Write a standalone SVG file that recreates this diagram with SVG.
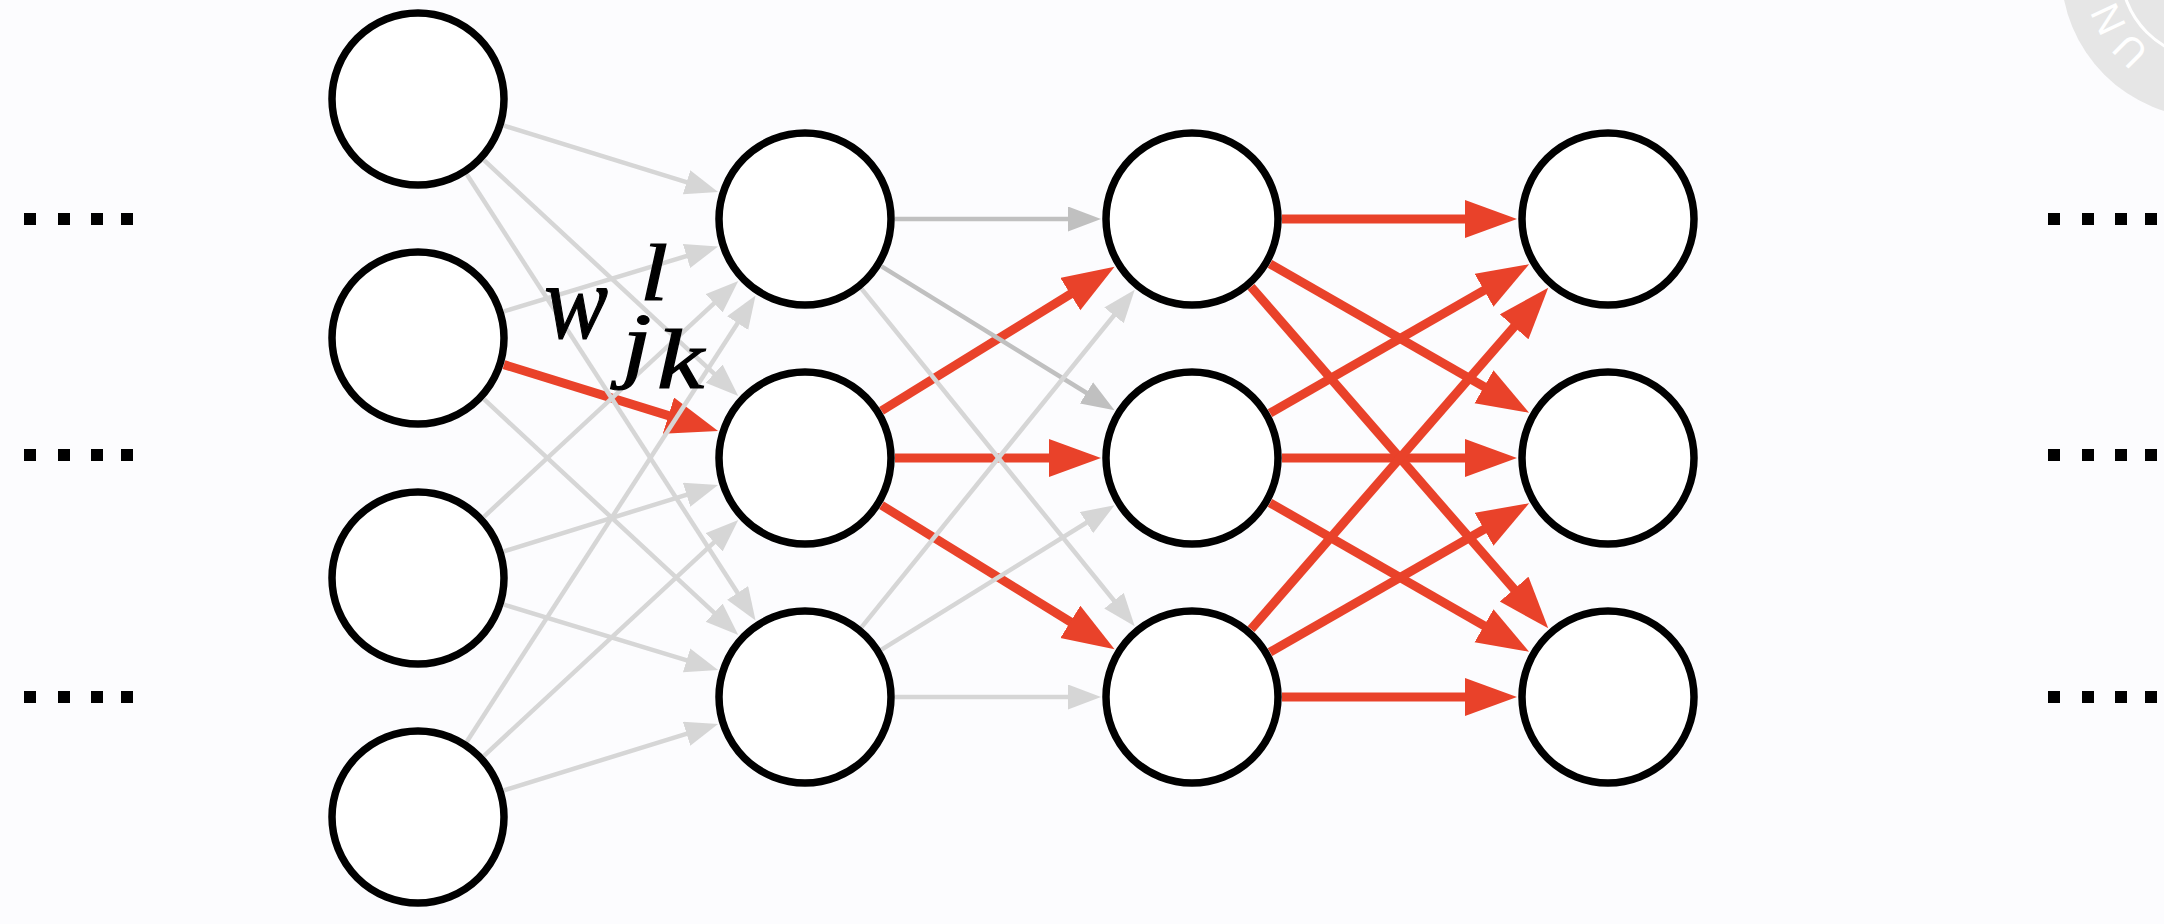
<svg xmlns="http://www.w3.org/2000/svg" width="2164" height="924" viewBox="0 0 2164 924">
<defs>
<style>
.node{fill:#ffffff;stroke:#000000;stroke-width:7.5}
.g{stroke:#d6d6d6;stroke-width:4.5;fill:none;marker-end:url(#ag)}
.d{stroke:#c0c0c0;stroke-width:4.5;fill:none;marker-end:url(#ad)}
.r{stroke:#e9422a;stroke-width:9;fill:none;marker-end:url(#ar)}
.dot{fill:#000000}
.lbl{font-family:"Liberation Serif","DejaVu Serif",serif;font-style:italic;fill:#000000;stroke:#000000;stroke-width:1.2}
</style>
<marker id="ag" markerUnits="userSpaceOnUse" markerWidth="34" markerHeight="26" refX="15" refY="12.5" orient="auto" viewBox="0 0 34 26"><path d="M0,0 L33,12.5 L0,25 z" fill="#d6d6d6"/></marker>
<marker id="ad" markerUnits="userSpaceOnUse" markerWidth="34" markerHeight="26" refX="15" refY="12.5" orient="auto" viewBox="0 0 34 26"><path d="M0,0 L33,12.5 L0,25 z" fill="#c0c0c0"/></marker>
<marker id="ar" markerUnits="userSpaceOnUse" markerWidth="53" markerHeight="39" refX="22" refY="19" orient="auto" viewBox="0 0 53 39"><path d="M0,0 L52,19 L0,38 z" fill="#e9422a"/></marker>
</defs>
<rect x="0" y="0" width="2164" height="924" fill="#fcfcfe"/>
<g id="watermark">
<circle cx="2209" cy="-30" r="148" fill="#e6e6e6"/>
<circle cx="2209" cy="-30" r="88" fill="none" stroke="#ffffff" stroke-width="3"/>
<text x="2130" y="51" transform="rotate(-135 2130 51)" text-anchor="middle" dominant-baseline="central" font-family="Liberation Sans, sans-serif" font-size="40" fill="#ffffff">U</text>
<text x="2108" y="19" transform="rotate(-115 2108 19)" text-anchor="middle" dominant-baseline="central" font-family="Liberation Sans, sans-serif" font-size="40" fill="#ffffff">N</text>
</g>
<g id="connectors">
<line class="r" x1="503.96" y1="364.66" x2="689.43" y2="422.16"/>
<line class="r" x1="881.57" y1="410.71" x2="1089.05" y2="282.57"/>
<line class="r" x1="895" y1="458" x2="1071" y2="458"/>
<line class="r" x1="881.57" y1="505.29" x2="1089.05" y2="633.43"/>
<line class="r" x1="1282" y1="219" x2="1487" y2="219"/>
<line class="r" x1="1270.04" y1="263.84" x2="1503.08" y2="397.72"/>
<line class="r" x1="1251.09" y1="286.89" x2="1528.56" y2="605.73"/>
<line class="r" x1="1270.04" y1="413.16" x2="1503.08" y2="279.28"/>
<line class="r" x1="1282" y1="458" x2="1487" y2="458"/>
<line class="r" x1="1270.04" y1="502.84" x2="1503.08" y2="636.72"/>
<line class="r" x1="1251.09" y1="629.11" x2="1528.56" y2="310.27"/>
<line class="r" x1="1270.04" y1="652.16" x2="1503.08" y2="518.28"/>
<line class="r" x1="1282" y1="697" x2="1487" y2="697"/>
<line class="g" x1="503.96" y1="125.66" x2="700.89" y2="186.71"/>
<line class="g" x1="483.98" y1="160.21" x2="725.09" y2="383.87"/>
<line class="g" x1="466.9" y1="174.56" x2="745.78" y2="605.49"/>
<line class="g" x1="503.96" y1="311.34" x2="700.89" y2="251.71"/>
<line class="g" x1="483.98" y1="399.21" x2="725.09" y2="622.87"/>
<line class="g" x1="483.98" y1="516.79" x2="725.09" y2="293.13"/>
<line class="g" x1="503.96" y1="551.34" x2="700.89" y2="490.29"/>
<line class="g" x1="503.96" y1="604.66" x2="700.89" y2="664.71"/>
<line class="g" x1="466.9" y1="741.44" x2="745.78" y2="310.51"/>
<line class="g" x1="483.98" y1="755.79" x2="725.09" y2="532.13"/>
<line class="g" x1="503.96" y1="790.34" x2="700.89" y2="729.29"/>
<line class="d" x1="895" y1="219" x2="1083" y2="219"/>
<line class="d" x1="881.57" y1="266.29" x2="1099.26" y2="400.73"/>
<line class="g" x1="861.63" y1="288.95" x2="1123.42" y2="612.29"/>
<line class="g" x1="861.63" y1="627.05" x2="1123.42" y2="303.71"/>
<line class="g" x1="881.57" y1="649.71" x2="1099.26" y2="514.73"/>
<line class="g" x1="895" y1="697" x2="1083" y2="697"/>
</g>
<g id="layer1">
<circle id="n1" class="node" cx="418" cy="99" r="86"/>
<circle id="n2" class="node" cx="418" cy="338" r="86"/>
<circle id="n3" class="node" cx="418" cy="578" r="86"/>
<circle id="n4" class="node" cx="418" cy="817" r="86"/>
</g>
<g id="layer2">
<circle id="m1" class="node" cx="805" cy="219" r="86"/>
<circle id="m2" class="node" cx="805" cy="458" r="86"/>
<circle id="m3" class="node" cx="805" cy="697" r="86"/>
</g>
<g id="layer3">
<circle id="p1" class="node" cx="1192" cy="219" r="86"/>
<circle id="p2" class="node" cx="1192" cy="458" r="86"/>
<circle id="p3" class="node" cx="1192" cy="697" r="86"/>
</g>
<g id="layer4">
<circle id="q1" class="node" cx="1608" cy="219" r="86"/>
<circle id="q2" class="node" cx="1608" cy="458" r="86"/>
<circle id="q3" class="node" cx="1608" cy="697" r="86"/>
</g>
<g id="label">
<text class="lbl"><tspan x="544" y="338" font-size="107" textLength="64" lengthAdjust="spacingAndGlyphs">w</tspan><tspan x="640" y="300" font-size="80" textLength="28" lengthAdjust="spacingAndGlyphs">l</tspan><tspan x="622" y="372" font-size="85" textLength="29.5" lengthAdjust="spacingAndGlyphs">j</tspan><tspan x="657" y="388" font-size="85" textLength="47" lengthAdjust="spacingAndGlyphs">k</tspan></text>
</g>
<g id="dots-left">
<rect class="dot" x="24" y="213" width="12" height="12"/><rect class="dot" x="58" y="213" width="12" height="12"/><rect class="dot" x="91" y="213" width="12" height="12"/><rect class="dot" x="121" y="213" width="12" height="12"/>
<rect class="dot" x="24" y="449" width="12" height="12"/><rect class="dot" x="58" y="449" width="12" height="12"/><rect class="dot" x="91" y="449" width="12" height="12"/><rect class="dot" x="121" y="449" width="12" height="12"/>
<rect class="dot" x="24" y="691" width="12" height="12"/><rect class="dot" x="58" y="691" width="12" height="12"/><rect class="dot" x="91" y="691" width="12" height="12"/><rect class="dot" x="121" y="691" width="12" height="12"/>
</g>
<g id="dots-right">
<rect class="dot" x="2048" y="213" width="12" height="12"/><rect class="dot" x="2082" y="213" width="12" height="12"/><rect class="dot" x="2115" y="213" width="12" height="12"/><rect class="dot" x="2145" y="213" width="12" height="12"/>
<rect class="dot" x="2048" y="449" width="12" height="12"/><rect class="dot" x="2082" y="449" width="12" height="12"/><rect class="dot" x="2115" y="449" width="12" height="12"/><rect class="dot" x="2145" y="449" width="12" height="12"/>
<rect class="dot" x="2048" y="691" width="12" height="12"/><rect class="dot" x="2082" y="691" width="12" height="12"/><rect class="dot" x="2115" y="691" width="12" height="12"/><rect class="dot" x="2145" y="691" width="12" height="12"/>
</g>
</svg>
